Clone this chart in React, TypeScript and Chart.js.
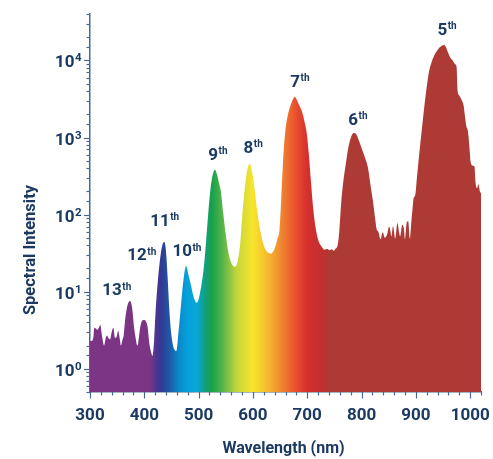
import { useEffect, useRef } from 'react';
import { Chart, registerables } from 'chart.js';

Chart.register(...registerables);

// ---- Data ----
const wavelengths = [
  300, 303, 306, 308, 311, 314, 317, 319, 322, 326, 329, 331, 334, 337, 340, 343, 346, 349, 352, 355,
  357, 360, 362, 365, 368, 371, 374, 377, 379, 381, 384, 387, 389, 392, 396, 400, 403, 406, 409, 412,
  415, 418, 421, 425, 430, 434, 437, 440, 443, 446, 450, 455, 459, 463, 468, 472, 477, 481, 486, 491,
  496, 500, 505, 510, 514, 518, 522, 526, 530, 534, 538, 541, 545, 550, 555, 561, 567, 572, 577, 581,
  585, 589, 594, 598, 603, 608, 613, 619, 626, 634, 641, 645, 649, 652, 655, 659, 664, 670, 674, 677,
  680, 684, 690, 695, 699, 703, 707, 711, 716, 721, 727, 732, 737, 741, 745, 749, 752, 756, 759, 763,
  767, 771, 775, 780, 786, 791, 796, 801, 806, 812, 817, 821, 825, 828, 831, 835, 839, 843, 847, 851,
  853, 855, 858, 862, 866, 869, 871, 875, 878, 880, 883, 886, 889, 892, 894, 896, 899, 902, 905, 908,
  911, 915, 918, 921, 924, 929, 935, 940, 944, 948, 952, 955, 957, 960, 963, 968, 972, 975, 977, 980,
  985, 988, 990, 993, 996, 999, 1001, 1005, 1008, 1010, 1013, 1015, 1018, 1020,
];
const intensities = [
  2.3, 2.3, 2.5, 3.4, 3.3, 3.2, 3.5, 3.7, 2.7, 2.0, 2.5, 2.7, 2.5, 2.4, 3.0, 3.4, 2.5, 2.6, 3.1, 2.4,
  2.0, 2.4, 2.7, 4.5, 6.2, 7.3, 7.6, 6.5, 5.0, 3.5, 2.5, 2.0, 2.2, 3.3, 4.2, 4.3, 4.1, 3.5, 2.2, 1.7,
  1.47, 2.3, 5.9, 14, 30, 42, 44, 33, 15, 6, 2.7, 1.8, 1.7, 3, 7.2, 14, 21.5, 17, 12, 8.5,
  7.2, 8, 12, 22, 48, 110, 220, 330, 383, 330, 250, 200, 110, 55, 32, 23, 21, 25, 45, 110,
  220, 360, 458, 380, 215, 110, 65, 42, 33, 31.4, 38, 48, 64, 150, 420, 1100, 1900, 2700, 3150, 3370,
  3150, 2750, 2200, 1600, 1150, 600, 260, 120, 64, 45, 38, 35, 36, 34.5, 35.5, 34, 36, 40, 60, 157,
  290, 450, 700, 980, 1155, 1080, 880, 700, 560, 400, 230, 150, 90, 64, 60, 48, 59, 50, 55, 70,
  62, 52, 71, 49, 78, 60, 52, 74, 66, 48, 78, 82, 49, 85, 120, 165, 178, 300, 500, 800,
  1260, 2300, 3500, 5000, 7000, 9500, 12000, 13600, 14800, 15500, 15900, 15200, 14000, 12300, 11000, 10000, 9000, 8200, 4000, 3500,
  3000, 2600, 2000, 1400, 1200, 700, 480, 430, 420, 260, 220, 250, 200, 190,
];

const xMin = 300;
const xMax = 1020;
const xStep = 20;
const xLabelEvery = 100;
const yMin = 0.5;
const yMax = 40000;

// harmonic order labels (anchored in data coordinates)
const peakOrders = ['13', '12', '11', '10', '9', '8', '7', '6', '5'];
const peakLabelNm = [349, 395, 437, 478, 535, 600, 686, 793, 957];
const peakLabelValue = [9.0, 25.5, 72, 28.7, 517, 635, 4540, 1465, 21400];

// spectral colour stops
const gradientNm = [300, 410, 422, 432, 447, 462, 478, 497, 512, 524, 545, 570, 600, 630, 655, 680, 700, 728, 740, 1020];
const gradientColors = [
  '#7b3584', '#7b3584', '#4d3590', '#2e3a94', '#1f5aa8', '#0b86c7', '#05a0dc', '#08a8d8', '#12a07a', '#16a04a',
  '#5bb44a', '#c3d53b', '#f8e52b', '#f4b52e', '#ef8030', '#e94d2e', '#d62f2e', '#c0302f', '#ae3a36', '#ae3a36',
];

const NAVY = '#1b3a61';
const AXIS = '#4a6890';
const FONT = 'Roboto, "Open Sans", sans-serif';

const overlayPlugin = {
  id: 'overlay',
  afterDraw(chart: any) {
    const { ctx, chartArea, scales } = chart;
    const x = scales.x;
    const y = scales.y;
    ctx.save();
    ctx.strokeStyle = AXIS;
    ctx.lineWidth = 1.2;
    // x ticks
    for (const t of x.ticks) {
      const v = t.value;
      if (v < xMin || v > xMax) continue;
      const px = Math.round(x.getPixelForValue(v)) + 0.5;
      const len = v % xLabelEvery === 0 ? 6.5 : 3.5;
      ctx.beginPath();
      ctx.moveTo(px, chartArea.bottom);
      ctx.lineTo(px, chartArea.bottom + len);
      ctx.stroke();
    }
    // y ticks and labels
    for (const t of y.ticks) {
      const v = t.value;
      if (v < yMin * 0.999 || v > yMax * 1.001) continue;
      const py = Math.round(y.getPixelForValue(v)) + 0.5;
      const exp = Math.log10(v);
      const major = Math.abs(exp - Math.round(exp)) < 1e-9;
      const len = major ? 6 : 3.5;
      ctx.beginPath();
      ctx.moveTo(chartArea.left - len, py);
      ctx.lineTo(chartArea.left, py);
      ctx.stroke();
      if (major) {
        const e = String(Math.round(exp));
        const right = chartArea.left - 8.5;
        ctx.fillStyle = NAVY;
        ctx.textAlign = 'right';
        ctx.textBaseline = 'alphabetic';
        ctx.font = `bold 11.5px ${FONT}`;
        const ew = ctx.measureText(e).width;
        ctx.fillText(e, right, py + 0.5);
        ctx.font = `bold 17px ${FONT}`;
        ctx.fillText('10', right - ew - 0.5, py + 6);
      }
    }
    // peak labels
    for (let i = 0; i < peakOrders.length; i++) {
      const cx = x.getPixelForValue(peakLabelNm[i]);
      const by = y.getPixelForValue(peakLabelValue[i]);
      ctx.font = `bold 17px ${FONT}`;
      const bw = ctx.measureText(peakOrders[i]).width;
      ctx.font = `bold 10px ${FONT}`;
      const sw = ctx.measureText('th').width;
      const start = cx - (bw + sw) / 2;
      ctx.fillStyle = NAVY;
      ctx.textAlign = 'left';
      ctx.textBaseline = 'alphabetic';
      ctx.font = `bold 17px ${FONT}`;
      ctx.fillText(peakOrders[i], start, by);
      ctx.font = `bold 10px ${FONT}`;
      ctx.fillText('th', start + bw + 0.5, by - 5.5);
    }
    // axis titles
    ctx.fillStyle = NAVY;
    ctx.font = `bold 16px ${FONT}`;
    ctx.textAlign = 'center';
    ctx.textBaseline = 'middle';
    ctx.fillText('Wavelength (nm)', (chartArea.left + chartArea.right) / 2 - 2, 449);
    ctx.font = `bold 16.5px ${FONT}`;
    ctx.translate(31, 250);
    ctx.rotate(-Math.PI / 2);
    ctx.fillText('Spectral Intensity', 0, 0);
    ctx.restore();
  },
};

export default function App() {
  const ref = useRef<HTMLCanvasElement | null>(null);
  useEffect(() => {
    if (!ref.current) return;
    const chart = new Chart(ref.current, {
      type: 'line',
      data: {
        datasets: [
          {
            data: wavelengths.map((w, i) => ({ x: w, y: intensities[i] })),
            fill: 'start',
            borderWidth: 0,
            borderColor: 'rgba(0,0,0,0)',
            pointRadius: 0,
            cubicInterpolationMode: 'monotone',
            backgroundColor: (c: any) => {
              const ch = c.chart;
              const { ctx, chartArea, scales } = ch;
              if (!chartArea || !scales.x) return gradientColors[0];
              const x0 = scales.x.getPixelForValue(xMin);
              const x1 = scales.x.getPixelForValue(xMax);
              const g = ctx.createLinearGradient(x0, 0, x1, 0);
              gradientNm.forEach((nm, i) => g.addColorStop((nm - xMin) / (xMax - xMin), gradientColors[i]));
              return g;
            },
          } as any,
        ],
      },
      options: {
        animation: false,
        responsive: false,
        devicePixelRatio: 1,
        layout: { padding: { top: 14, right: 12, left: 0, bottom: 0 } },
        plugins: { legend: { display: false }, tooltip: { enabled: false }, title: { display: false } },
        scales: {
          x: {
            type: 'linear',
            min: xMin,
            max: xMax,
            grid: { display: false },
            border: { display: true, color: AXIS, width: 1.5 },
            ticks: {
              stepSize: xStep,
              autoSkip: false,
              maxRotation: 0,
              padding: 6,
              color: NAVY,
              font: { family: FONT, size: 17, weight: 'bold' },
              callback: (v: any) => (Number(v) % xLabelEvery === 0 ? String(v) : ''),
            },
            afterFit: (s: any) => {
              s.height = 67;
            },
          },
          y: {
            type: 'logarithmic',
            min: yMin,
            max: yMax,
            grid: { display: false },
            border: { display: true, color: AXIS, width: 1.5 },
            ticks: { display: false, autoSkip: false },
            afterFit: (s: any) => {
              s.width = 90;
            },
          },
        },
      } as any,
      plugins: [overlayPlugin],
    });
    return () => chart.destroy();
  }, []);
  return (
    <div style={{ position: 'fixed', left: 0, top: 0, width: 493, height: 459, background: '#fff' }}>
      <canvas ref={ref} width={493} height={459} style={{ display: 'block', width: 493, height: 459 }} />
    </div>
  );
}
